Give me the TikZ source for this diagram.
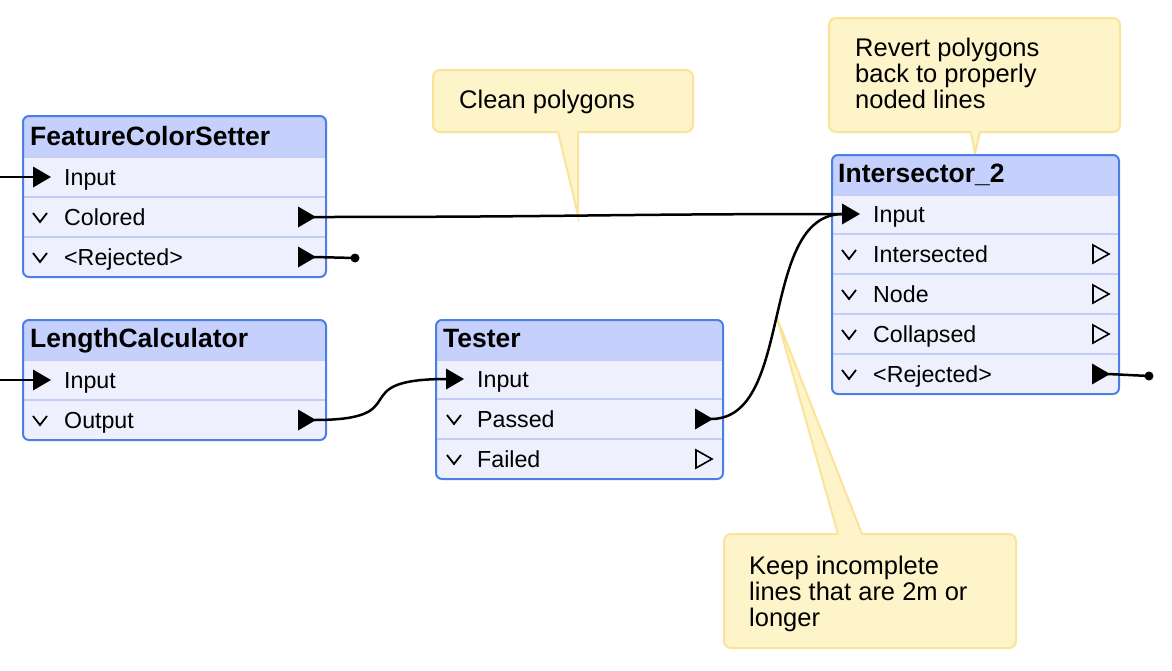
\documentclass[tikz,border=0pt]{standalone}
\usepackage{fontspec}
\setmainfont{Liberation Sans}
\definecolor{hdrblue}{HTML}{C6D0FC}
\definecolor{rowblue}{HTML}{EEF0FD}
\definecolor{sepblue}{HTML}{C3CDF7}
\definecolor{boxblue}{HTML}{4C7FE6}
\definecolor{notefill}{HTML}{FEF4CA}
\definecolor{noteline}{HTML}{FBE39A}
\begin{document}
\begin{tikzpicture}[x={(1pt,0pt)}, y={(0pt,-1pt)},
    title/.style={anchor=west, inner sep=0pt, text height=19pt, text depth=0pt,
      font=\fontsize{26.5}{30}\selectfont\bfseries},
    portname/.style={anchor=west, inner sep=0pt, text height=16.6pt, text depth=0pt,
      font=\fontsize{23.2}{26}\selectfont},
    notetext/.style={anchor=north west, inner sep=0pt, align=left,
      font=\fontsize{25.5}{26}\selectfont},
    border/.style={draw=boxblue, line width=2pt, rounded corners=6pt},
    sep/.style={draw=sepblue, line width=1.5pt},
    notebox/.style={fill=notefill, draw=noteline, line width=2pt, rounded corners=7pt},
    chev/.style={line width=1.8pt},
    wire/.style={line width=2.5pt}]
  \useasboundingbox (0,0) rectangle (1172,670);

  % Notes
  \draw[notebox] (433,70) rectangle (693,132);
  \fill[notefill] (558,131) -- (578,215) -- (578,131) -- cycle;
  \draw[noteline, line width=2pt] (558,132) -- (578,215) -- (578,132);
  \node[notetext] (cleanNote) at (459,89.5) {Clean polygons};

  \draw[notebox] (829,18) rectangle (1120,132);
  \fill[notefill] (971,131) -- (975,153) -- (980,131) -- cycle;
  \draw[noteline, line width=2pt] (971,132) -- (975,153) -- (980,132);
  \node[notetext] (revertNote) at (855,37.5)
    {Revert polygons\\back to properly\\noded lines};

  \draw[notebox] (724,534) rectangle (1016,648);
  \fill[notefill] (838,535) -- (777,318) -- (862,535) -- cycle;
  \draw[noteline, line width=2pt] (838,534) -- (777,318) -- (862,534);
  \node[notetext] (keepNote) at (749,555.5)
    {Keep incomplete\\lines that are 2m or\\longer};

  % FeatureColorSetter
  \begin{scope}
    \clip[rounded corners=6pt] (23,116) rectangle (326,277);
    \fill[rowblue] (23,116) rectangle (326,277);
    \fill[hdrblue] (23,116) rectangle (326,157);
    \foreach \y in {157,197,237} \draw[sep] (23,\y) -- (326,\y);
  \end{scope}
  \draw[border] (23,116) rectangle (326,277);
  \node[title] (fcsTitle) at (30,136) {FeatureColorSetter};
  \node[portname] (fcsInput) at (64,177) {Input};
  \node[portname] (fcsColored) at (64,217) {Colored};
  \node[portname] (fcsRejected) at (64,257) {<Rejected>};

  % LengthCalculator
  \begin{scope}
    \clip[rounded corners=6pt] (23,320) rectangle (326,440);
    \fill[rowblue] (23,320) rectangle (326,440);
    \fill[hdrblue] (23,320) rectangle (326,360);
    \foreach \y in {360,400} \draw[sep] (23,\y) -- (326,\y);
  \end{scope}
  \draw[border] (23,320) rectangle (326,440);
  \node[title] (lcTitle) at (30,338) {LengthCalculator};
  \node[portname] (lcInput) at (64,380) {Input};
  \node[portname] (lcOutput) at (64,420) {Output};

  % Tester
  \begin{scope}
    \clip[rounded corners=6pt] (436,320) rectangle (723,479);
    \fill[rowblue] (436,320) rectangle (723,479);
    \fill[hdrblue] (436,320) rectangle (723,360);
    \foreach \y in {360,399,439} \draw[sep] (436,\y) -- (723,\y);
  \end{scope}
  \draw[border] (436,320) rectangle (723,479);
  \node[title] (tstTitle) at (443,338) {Tester};
  \node[portname] (tstInput) at (477,379) {Input};
  \node[portname] (tstPassed) at (477,419) {Passed};
  \node[portname] (tstFailed) at (477,459) {Failed};

  % Intersector_2
  \begin{scope}
    \clip[rounded corners=6pt] (832,155) rectangle (1119,394);
    \fill[rowblue] (832,155) rectangle (1119,394);
    \fill[hdrblue] (832,155) rectangle (1119,195);
    \foreach \y in {195,234,274,314,354} \draw[sep] (832,\y) -- (1119,\y);
  \end{scope}
  \draw[border] (832,155) rectangle (1119,394);
  \node[title] (intTitle) at (838,173) {Intersector\_2};
  \node[portname] (intInput) at (873,214) {Input};
  \node[portname] (intIntersected) at (873,254) {Intersected};
  \node[portname] (intNode) at (873,294) {Node};
  \node[portname] (intCollapsed) at (873,334) {Collapsed};
  \node[portname] (intRejected) at (873,374) {<Rejected>};

  % Ports
  \foreach \x/\y in {33/217, 33/257, 33/420, 447/419, 447/459,
                     842/254, 842/294, 842/334, 842/374}
    \draw[chev] (\x,\y-4) -- (\x+7,\y+5) -- (\x+14,\y-4);
  \foreach \x/\y in {33/177, 33/380, 446/379, 842/214,
                     298/217, 298/257, 298/420, 695/419, 1092/374}
    \fill (\x,\y-10.5) -- (\x+18,\y) -- (\x,\y+10.5) -- cycle;
  \foreach \x/\y in {695/459, 1092/254, 1092/294, 1092/334}
    \draw[line width=1.6pt] (\x+1,\y-9) -- (\x+17,\y) -- (\x+1,\y+9) -- cycle;

  \coordinate (fcsSrc) at (0,177);
  \coordinate (fcsIn) at (34,177);
  \coordinate (lcSrc) at (0,380);
  \coordinate (lcIn) at (34,380);
  \coordinate (fcsCol) at (314,217);
  \coordinate (fcsRej) at (314,257);
  \coordinate (fcsEnd) at (355,258);
  \coordinate (lcOut) at (314,420);
  \coordinate (tstIn) at (447,379);
  \coordinate (tstPas) at (711,419);
  \coordinate (intIn) at (843,214);
  \coordinate (intRej) at (1108,374);
  \coordinate (intEnd) at (1149,376);

  % Connections
  \draw[wire] (fcsSrc) -- (fcsIn);
  \draw[wire] (lcSrc) -- (lcIn);
  \draw[wire] (fcsCol) .. controls (580,217) and (600,214) .. (intIn);
  \draw[wire] (fcsRej) -- (fcsEnd);
  \fill (fcsEnd) circle (4.5);
  \draw[wire] (lcOut) .. controls (420,420) and (340,379) .. (tstIn);
  \draw[wire] (tstPas) .. controls (795,419) and (758,214) .. (intIn);
  \draw[wire] (intRej) -- (intEnd);
  \fill (intEnd) circle (4.5);
\end{tikzpicture}
\end{document}
